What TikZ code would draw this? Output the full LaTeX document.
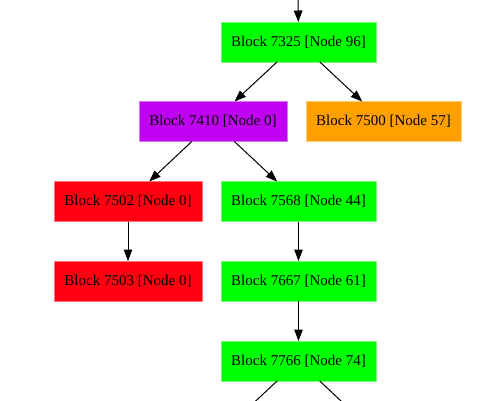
\documentclass[tikz,border=0pt]{standalone}
\usepackage{fontspec}
\setmainfont{Liberation Serif}
\usetikzlibrary{arrows.meta}
\definecolor{gvgreen}{HTML}{00FF00}
\definecolor{gvpurple}{HTML}{C000F0}
\definecolor{gvorange}{HTML}{FFA000}
\definecolor{gvred}{HTML}{FF0010}
\begin{document}
\begin{tikzpicture}[x=1bp,y=-1bp,
  blk/.style={rectangle, inner sep=0pt, outer sep=0pt, minimum height=40bp,
    line width=0.6bp, font=\fontsize{15bp}{17bp}\selectfont, text=black},
  wide/.style={minimum width=155bp},
  narrow/.style={minimum width=148bp},
  green/.style={fill=gvgreen, draw=gvgreen!55!white},
  purple/.style={fill=gvpurple, draw=gvpurple!55!white},
  orange/.style={fill=gvorange, draw=gvorange!55!white},
  red/.style={fill=gvred, draw=gvred!55!white},
  edge/.style={draw=black, line width=1bp, -{Triangle[length=11.5bp,width=8.5bp]}},
  tail/.style={draw=black, line width=1bp}]
\useasboundingbox (0,0) rectangle (478,400);
\clip (0,0) rectangle (478,400);
\node[blk,wide,green]   (b7325) at (298.5,42)    {Block 7325 [Node 96]};
\node[blk,narrow,purple](b7410) at (213,121.5)   {Block 7410 [Node 0]};
\node[blk,wide,orange]  (b7500) at (383.5,121.5) {Block 7500 [Node 57]};
\node[blk,narrow,red]   (b7502) at (128,201.5)   {Block 7502 [Node 0]};
\node[blk,wide,green]   (b7568) at (298.5,201.5) {Block 7568 [Node 44]};
\node[blk,narrow,red]   (b7503) at (128,281)     {Block 7503 [Node 0]};
\node[blk,wide,green]   (b7667) at (298.5,281)   {Block 7667 [Node 61]};
\node[blk,wide,green]   (b7766) at (298.5,361)   {Block 7766 [Node 74]};
\coordinate (top) at (298,-2);
\coordinate (outL) at (254.6,402);
\coordinate (outR) at (342.1,402);
\draw[edge] (top) -- (b7325);
\draw[edge] (b7325) -- (b7410);
\draw[edge] (b7325) -- (b7500);
\draw[edge] (b7410) -- (b7502);
\draw[edge] (b7410) -- (b7568);
\draw[edge] (b7502) -- (b7503);
\draw[edge] (b7568) -- (b7667);
\draw[edge] (b7667) -- (b7766);
\draw[tail] (b7766) -- (outL);
\draw[tail] (b7766) -- (outR);
\end{tikzpicture}
\end{document}
